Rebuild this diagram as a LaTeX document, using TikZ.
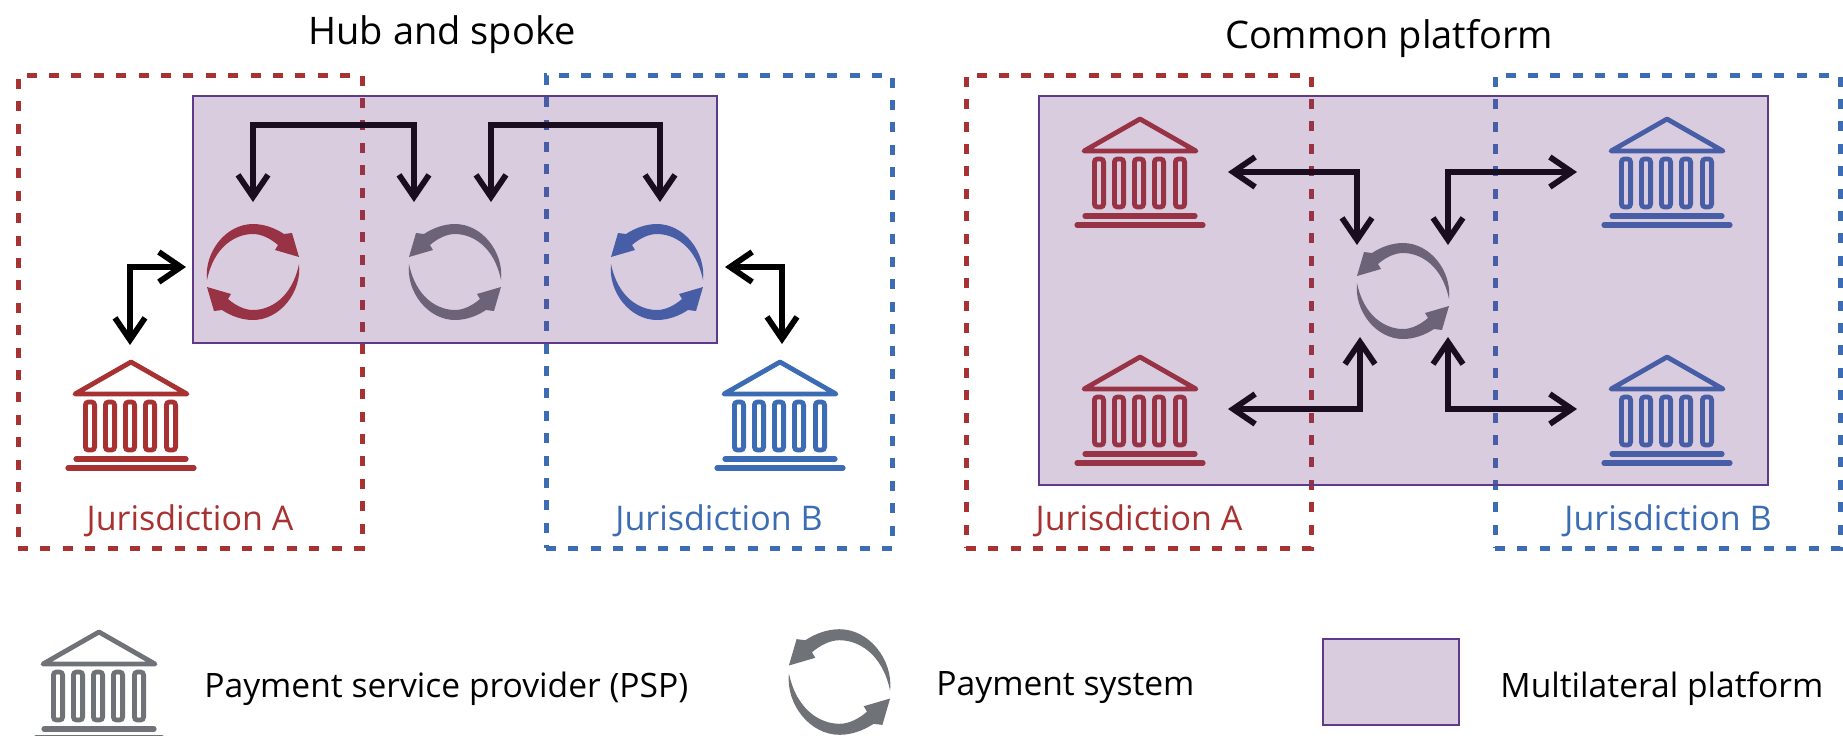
\documentclass[tikz,border=0pt]{standalone}
\usepackage{fontspec}
\setmainfont{Open Sans}
\usetikzlibrary{arrows.meta}
\definecolor{jred}{HTML}{A83232}
\definecolor{jblue}{HTML}{3C6CB4}
\definecolor{jgray}{HTML}{6F7377}
\definecolor{platfill}{HTML}{6B3480}
\definecolor{platline}{HTML}{5F3A8A}
\tikzset{
  jbox/.style={draw=#1,line width=2.5pt,dash pattern=on 5pt off 6.2pt,inner sep=0pt,outer sep=0pt,rectangle},
  platform/.style={rectangle,draw=platline,line width=1.4pt,fill=platfill,fill opacity=.25,draw opacity=1,inner sep=0pt,outer sep=0pt},
  conn/.style={draw=black,line width=2.9pt,line join=miter,{Straight Barb[length=11pt,width=15pt]}-{Straight Barb[length=11pt,width=15pt]}},
  lab/.style={font=\fontsize{17}{20}\selectfont,inner sep=0pt,anchor=center},
  ttl/.style={font=\fontsize{19}{22}\selectfont,inner sep=0pt,anchor=center},
  leg/.style={font=\fontsize{16.8}{20}\selectfont,inner sep=0pt,anchor=west},
  bankpic/.pic={
    \draw[#1,line width=2.4pt,line join=round] (0,2)--(-56,34)--(56,34)--cycle;
    \foreach \c in {-41,-21,-1,19,40}{
      \draw[#1,line width=2.4pt,rounded corners=1.5pt] (\c-4.6,42) rectangle (\c+4.6,90);
    }
    \draw[#1,line width=2.6pt,line cap=round] (-55,99)--(55,99);
    \draw[#1,line width=2.6pt,line cap=round] (-63,108)--(63,108);
  },
  cyclepic/.pic={
    \fill[#1] (-46,8) .. controls (-49,-20) and (-27,-48) .. (0,-48)
      .. controls (11,-48) and (22,-44) .. (31,-38) -- (39,-39) -- (46,-15) -- (22,-22) -- (25,-27)
      .. controls (18,-33) and (9,-38) .. (0,-38) .. controls (-17,-38) and (-39,-26) .. cycle;
    \fill[#1] (46,-8) .. controls (49,20) and (27,48) .. (0,48)
      .. controls (-11,48) and (-22,44) .. (-31,38) -- (-39,39) -- (-46,15) -- (-22,22) -- (-25,27)
      .. controls (-18,33) and (-9,38) .. (0,38) .. controls (17,38) and (39,26) .. cycle;
  }
}
\begin{document}
\begin{tikzpicture}[x=.5pt,y=-.5pt]
\useasboundingbox (0,0) rectangle (1843,735);
% jurisdiction boxes
\node[jbox=jred,minimum width=172pt,minimum height=236.5pt] (ra) at (190,311.5) {};
\node[jbox=jblue,minimum width=173pt,minimum height=236.5pt] (rb) at (719,311.5) {};
\node[jbox=jred,minimum width=172.5pt,minimum height=236.5pt] (ra2) at (1138.5,311.5) {};
\node[jbox=jblue,minimum width=172.5pt,minimum height=236.5pt] (rb2) at (1667.5,311.5) {};
% banks
\pic at (131,360) {bankpic=jred};
\pic at (780,360) {bankpic=jblue};
\pic at (1140,117) {bankpic=jred};
\pic at (1140,355) {bankpic=jred};
\pic at (1667,117) {bankpic=jblue};
\pic at (1667,355) {bankpic=jblue};
\pic at (99,630) {bankpic=jgray};
% payment systems
\pic at (253,272) {cyclepic=jred};
\pic[xscale=-1] at (455,272) {cyclepic=jgray};
\pic[xscale=-1] at (657,272) {cyclepic=jblue};
\pic[xscale=-1] at (1403,291) {cyclepic=jgray};
\pic[xscale=-1.1,yscale=1.1] at (839.5,682) {cyclepic=jgray};
% connector ends
\coordinate (h1) at (253,202);
\coordinate (h2) at (414,202);
\coordinate (h3) at (491,202);
\coordinate (h4) at (660,202);
\coordinate (b1) at (130,345);
\coordinate (s1) at (186,267);
\coordinate (b2) at (782,344);
\coordinate (s2) at (725,267);
\coordinate (t1) at (1228,172);
\coordinate (t2) at (1577,172);
\coordinate (t3) at (1228,409);
\coordinate (t4) at (1577,409);
\coordinate (c1) at (1357,245);
\coordinate (c2) at (1448,245);
\coordinate (c3) at (1360,337);
\coordinate (c4) at (1448,337);
% connectors
\draw[conn] (h1) -- (253,125) -| (h2);
\draw[conn] (h3) -- (491,125) -| (h4);
\draw[conn] (b1) |- (s1);
\draw[conn] (b2) |- (s2);
\draw[conn] (t1) -| (c1);
\draw[conn] (t2) -| (c2);
\draw[conn] (t3) -| (c3);
\draw[conn] (t4) -| (c4);
% platforms on top (translucent)
\node[platform,minimum width=262pt,minimum height=123.5pt] (p1) at (455,219.5) {};
\node[platform,minimum width=364.5pt,minimum height=194.5pt] (p2) at (1403.5,290.5) {};
\node[platform,minimum width=68pt,minimum height=43pt] (p3) at (1391,682) {};
% text
\node[ttl] (title1) at (442,35) {Hub and spoke};
\node[ttl] (title2) at (1389,39) {Common platform};
\node[lab,text=jred] (la) at (190,521) {Jurisdiction A};
\node[lab,text=jblue] (lb) at (719,521) {Jurisdiction B};
\node[lab,text=jred] (la2) at (1139,521) {Jurisdiction A};
\node[lab,text=jblue] (lb2) at (1668,521) {Jurisdiction B};
\node[leg] (l1) at (204,689) {Payment service provider (PSP)};
\node[leg] (l2) at (936,688) {Payment system};
\node[leg] (l3) at (1500,689) {Multilateral platform};
\end{tikzpicture}
\end{document}
